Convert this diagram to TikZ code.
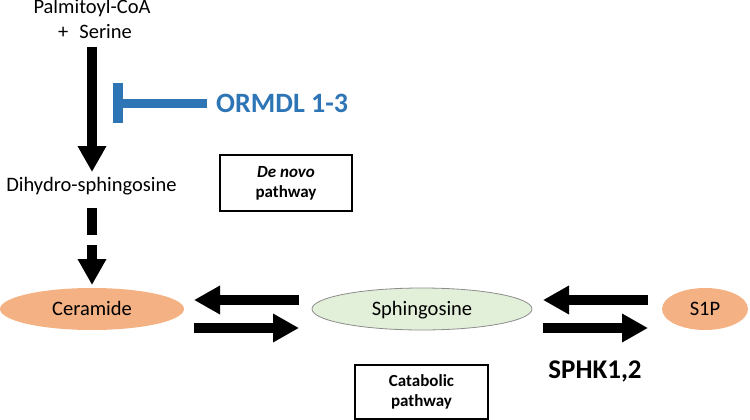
\documentclass[tikz,border=0pt]{standalone}
\usepackage{fontspec}
\setmainfont{Carlito}
\usetikzlibrary{arrows.meta,shapes.geometric}
\definecolor{salmon}{HTML}{F4B183}
\definecolor{palegreen}{HTML}{E2F0D9}
\definecolor{ormblue}{HTML}{2E75B6}
\definecolor{rimgray}{HTML}{8C8C8C}
\begin{document}
\begin{tikzpicture}[x=1pt,y=-1pt,
  txt/.style={inner sep=0pt, font=\fontsize{20.5}{24}\selectfont},
  bigarrow/.style={line width=10pt, -{Triangle[width=27pt,length=26pt]}},
  shaft/.style={line width=10pt},
  inhib/.style={draw=ormblue, line width=9.5pt},
  blob/.style={ellipse, inner sep=0pt, fill=salmon, text height=13pt, text depth=0pt, font=\fontsize{20.5}{24}\selectfont},
  pathbox/.style={draw, line width=1.1pt, minimum width=132pt, minimum height=56pt, align=center, font=\bfseries\fontsize{17}{20}\selectfont}]
\useasboundingbox (0,0) rectangle (750,420);
% texts
\node[txt, anchor=base] (pal) at (92,14) {Palmitoyl-CoA};
\node[txt, anchor=base west] (ser) at (58,39) {+\hspace{11pt}Serine};
\node[txt, anchor=base] (dhs) at (91.5,191) {Dihydro-sphingosine};
\node[anchor=base west, inner sep=0pt, text=ormblue, font=\bfseries\fontsize{28}{32}\selectfont] (orm) at (216,113) {ORMDL 1-3};
\node[pathbox] (denovo) at (286,183) {\textit{De novo}\\pathway};
\node[pathbox, minimum width=133pt, minimum height=54pt] (catab) at (421.5,392) {Catabolic\\pathway};
\node[anchor=base, inner sep=0pt, font=\bfseries\fontsize{27}{30}\selectfont] (sphk) at (595,378) {SPHK1,2};
% ellipses
\node[blob, minimum width=184pt, minimum height=42pt] (cer) at (92,309) {Ceramide};
\node[blob, fill=palegreen, draw=rimgray, line width=0.8pt, minimum width=220pt, minimum height=42pt] (sph) at (422,309) {Sphingosine};
\node[blob, minimum width=86pt, minimum height=42pt] (s1p) at (705,309) {S1P};
% de novo arrows
\coordinate (a0s) at (92,47);
\coordinate (a0e) at (92,172);
\draw[bigarrow] (a0s) -- (a0e);
\coordinate (d1s) at (92,208);
\coordinate (d1e) at (92,235);
\coordinate (d2s) at (92,245);
\coordinate (d2e) at (92,285);
\draw[shaft] (d1s) -- (d1e);
\draw[bigarrow] (d2s) -- (d2e);
% inhibition
\coordinate (i1) at (207,103.5);
\coordinate (i2) at (123,103.5);
\coordinate (b1) at (118,83);
\coordinate (b2) at (118,123);
\draw[inhib] (i1) -- (i2);
\draw[inhib] (b1) -- (b2);
% reversible arrows
\coordinate (l1s) at (299,300);
\coordinate (l1e) at (194,300);
\coordinate (l2s) at (194,328);
\coordinate (l2e) at (299,328);
\draw[bigarrow] (l1s) -- (l1e);
\draw[bigarrow] (l2s) -- (l2e);
\coordinate (r1s) at (648,300);
\coordinate (r1e) at (543,300);
\coordinate (r2s) at (543,328);
\coordinate (r2e) at (648,328);
\draw[bigarrow] (r1s) -- (r1e);
\draw[bigarrow] (r2s) -- (r2e);
\end{tikzpicture}
\end{document}
